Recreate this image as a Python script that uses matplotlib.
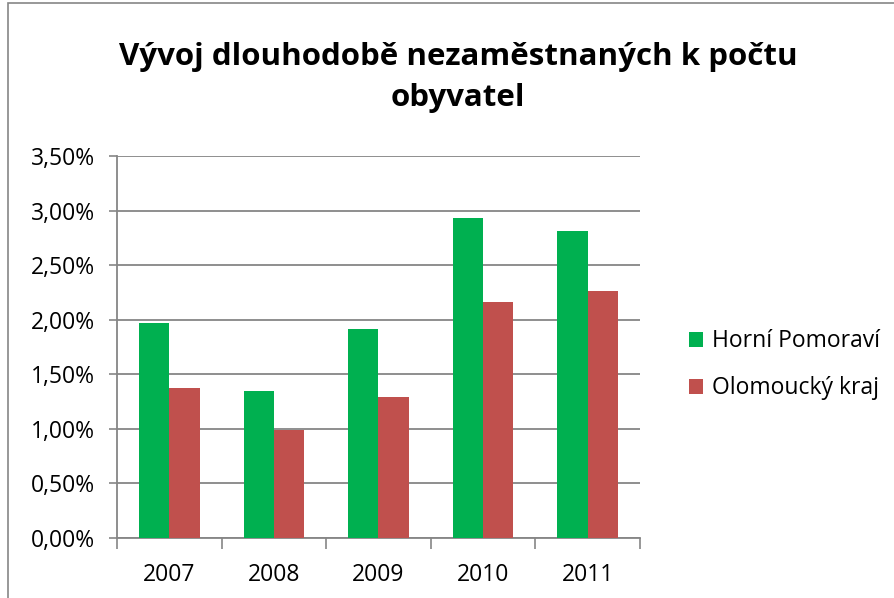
import matplotlib.pyplot as plt
import numpy as np
from matplotlib.patches import Rectangle
from matplotlib.ticker import FuncFormatter

years = ["2007", "2008", "2009", "2010", "2011"]
horni_pomoravi = [1.97, 1.35, 1.915, 2.93, 2.81]
olomoucky_kraj = [1.37, 0.99, 1.29, 2.165, 2.265]

plt.rcParams['font.family'] = ['Open Sans', 'DejaVu Sans']

fig = plt.figure(figsize=(8.95, 5.98), dpi=100)
ax = fig.add_axes([117/895, 60/598, 523/895, 382/598])

x = np.arange(len(years))
w = 0.29
ax.bar(x - w/2, horni_pomoravi, w, color="#00b050", label="Horní Pomoraví", zorder=3)
ax.bar(x + w/2, olomoucky_kraj, w, color="#c0504d", label="Olomoucký kraj", zorder=3)

ax.set_xlim(-0.5, len(years) - 0.5)
ax.set_ylim(0, 3.5)
ax.set_yticks(np.arange(0, 3.51, 0.5))
ax.yaxis.set_major_formatter(FuncFormatter(lambda v, p: f"{v:.2f}%".replace(".", ",")))
ax.set_xticks(x)
ax.set_xticklabels(years)
ax.set_xticks(np.arange(-0.5, len(years)), minor=True)
ax.tick_params(axis='x', which='major', length=0, pad=18, labelsize=16.5)
ax.tick_params(axis='x', which='minor', length=8, color="#868686", width=1.2)
ax.tick_params(axis='y', length=6, color="#868686", width=1.2, labelsize=16.5, pad=10)

ax.grid(axis='y', color="#868686", linewidth=1.3, zorder=0)
for s in ['top', 'right']:
    ax.spines[s].set_visible(False)
for s in ['left', 'bottom']:
    ax.spines[s].set_color("#868686")
    ax.spines[s].set_linewidth(1.3)

fig.suptitle("Vývoj dlouhodobě nezaměstnaných k počtu\nobyvatel",
             x=458/895, y=0.93, fontsize=22.5, fontweight='bold', linespacing=1.5)

ax.legend(loc='center left', bbox_to_anchor=(1.055, 0.453), frameon=False,
          fontsize=16.5, handlelength=0.6, handleheight=0.6, labelspacing=1.0,
          handletextpad=0.4)

fig.patches.append(Rectangle((8/895, -0.1), 1.2, (0.1 + 1 - 3/598), transform=fig.transFigure,
                             fill=False, edgecolor="#868686", linewidth=1.2))

fig.savefig("out.png", dpi=100)
